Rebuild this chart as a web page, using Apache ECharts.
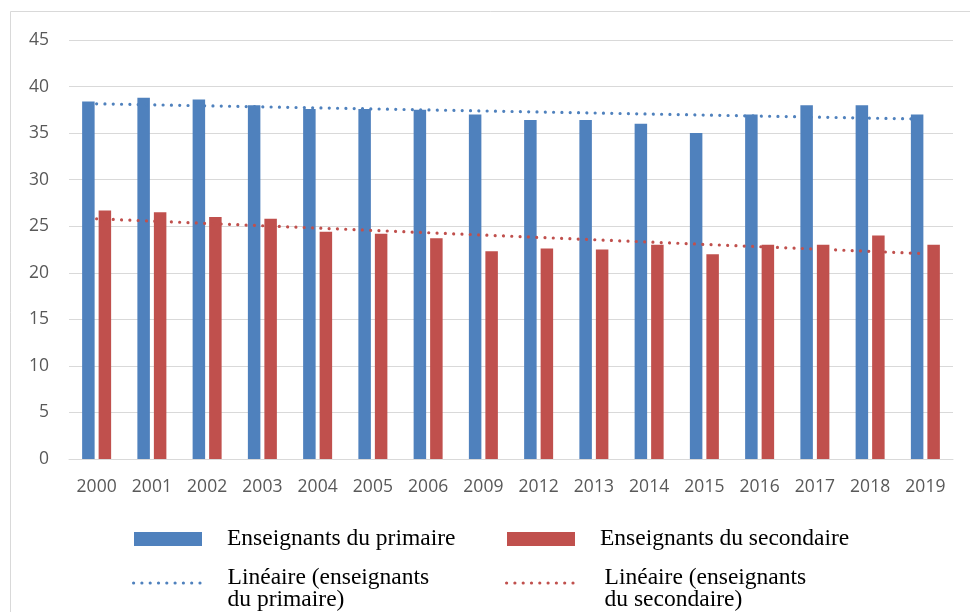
<!DOCTYPE html>
<html>
<head>
<meta charset="utf-8">
<script src="https://cdn.jsdelivr.net/npm/echarts@6/dist/echarts.min.js"></script>
<style>
html,body{margin:0;padding:0;background:#fff;}
#chart{width:970px;height:612px;}
</style>
</head>
<body>
<div id="chart"></div>
<script>
// Data
const years = ['2000','2001','2002','2003','2004','2005','2006','2009','2012','2013','2014','2015','2016','2017','2018','2019'];
const primaire = [38.4, 38.8, 38.6, 38.0, 37.6, 37.6, 37.5, 37.0, 36.4, 36.4, 36.0, 35.0, 37.0, 38.0, 38.0, 37.0];
const secondaire = [26.7, 26.5, 26.0, 25.8, 24.4, 24.2, 23.7, 22.3, 22.6, 22.5, 23.0, 22.0, 23.0, 23.0, 24.0, 23.0];
// Linear trendline end points (first and last year)
const trendPrimaire = [38.15, 36.5];
const trendSecondaire = [25.8, 22.05];
const yMax = 45;
const yStep = 5;

const names = {
  p: 'Enseignants du primaire',
  s: 'Enseignants du secondaire',
  tp: 'Linéaire (enseignants du primaire)',
  ts: 'Linéaire (enseignants du secondaire)'
};
const blue = '#4F81BD';
const red = '#C0504D';
const serif = "'Liberation Serif', 'Times New Roman', serif";
const sans = "'Open Sans', 'Liberation Sans', sans-serif";

// legend icon: a row of 9 round dots
function dotsPath(n, r, step) {
  let d = '';
  for (let k = 0; k < n; k++) {
    const cx = r + k * step;
    d += 'M' + (cx - r) + ' ' + r + 'a' + r + ' ' + r + ' 0 1 0 ' + (2 * r) + ' 0a' + r + ' ' + r + ' 0 1 0 ' + (-2 * r) + ' 0Z';
  }
  return 'path://' + d;
}
const dotIcon = dotsPath(9, 1.6, 8.3);
const dotIconW = 1.6 * 2 + 8.3 * 8;

const chart = echarts.init(document.getElementById('chart'), null, {renderer: 'canvas'});

const barLegendText = {fontFamily: serif, fontSize: 23.5, color: '#000', lineHeight: 24, padding: [0, 0, 0, 20]};
function lineLegendText(padLeft) {
  return {
    fontFamily: serif, fontSize: 23.5, color: '#000', lineHeight: 22, padding: [0, 0, 0, padLeft],
    rich: {
      gap: {fontSize: 10, lineHeight: 12},
      t: {fontFamily: serif, fontSize: 23.5, color: '#000', lineHeight: 22}
    }
  };
}

chart.setOption({
  animation: false,
  backgroundColor: '#fff',
  graphic: [{
    type: 'rect',
    z: -10,
    shape: {x: 10.5, y: 11.5, width: 1000, height: 1000},
    style: {fill: 'none', stroke: '#d9d9d9', lineWidth: 1}
  }],
  grid: {left: 69, right: 17, top: 40, bottom: 153, containLabel: false},
  legend: [
    {data: [names.p], left: 134, top: 527, padding: 0, icon: 'rect', itemWidth: 68, itemHeight: 14, textStyle: barLegendText},
    {data: [names.s], left: 507, top: 527, padding: 0, icon: 'rect', itemWidth: 68, itemHeight: 14, textStyle: barLegendText},
    {data: [{name: names.tp, icon: dotIcon}], left: 132, top: 555, padding: 0, itemWidth: dotIconW, itemHeight: 3.2,
      itemStyle: {color: blue}, lineStyle: {opacity: 0}, textStyle: lineLegendText(21),
      formatter: () => '{gap| }\n{t|Linéaire (enseignants}\n{t|du primaire)}'},
    {data: [{name: names.ts, icon: dotIcon}], left: 505, top: 555, padding: 0, itemWidth: dotIconW, itemHeight: 3.2,
      itemStyle: {color: red}, lineStyle: {opacity: 0}, textStyle: lineLegendText(25),
      formatter: () => '{gap| }\n{t|Linéaire (enseignants}\n{t|du secondaire)}'}
  ],
  xAxis: {
    type: 'category',
    data: years,
    axisTick: {show: false},
    axisLine: {lineStyle: {color: '#d9d9d9', width: 1}},
    axisLabel: {color: '#595959', fontFamily: sans, fontSize: 17.5, margin: 19, interval: 0}
  },
  yAxis: {
    type: 'value',
    min: 0,
    max: yMax,
    interval: yStep,
    axisLine: {show: false},
    axisTick: {show: false},
    splitLine: {lineStyle: {color: '#d9d9d9', width: 1}},
    axisLabel: {color: '#595959', fontFamily: sans, fontSize: 17.5, margin: 20}
  },
  series: [
    {name: names.p, type: 'bar', data: primaire, barWidth: 12.5, barGap: '32%', itemStyle: {color: blue}},
    {name: names.s, type: 'bar', data: secondaire, barWidth: 12.5, barGap: '32%', itemStyle: {color: red}},
    {name: names.tp, type: 'line', symbol: 'none', z: 5,
      data: [[years[0], trendPrimaire[0]], [years[years.length - 1], trendPrimaire[1]]],
      lineStyle: {color: blue, width: 3.2, type: [0.01, 8.3], cap: 'round'}, itemStyle: {color: blue}},
    {name: names.ts, type: 'line', symbol: 'none', z: 5,
      data: [[years[0], trendSecondaire[0]], [years[years.length - 1], trendSecondaire[1]]],
      lineStyle: {color: red, width: 3.2, type: [0.01, 8.3], cap: 'round'}, itemStyle: {color: red}}
  ]
});
</script>
</body>
</html>
